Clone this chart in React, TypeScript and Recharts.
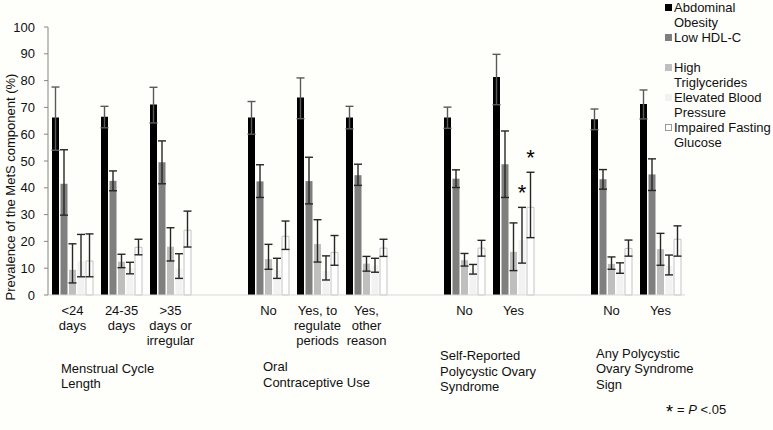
import React from "react";
import { BarChart, Bar, XAxis, YAxis, ErrorBar, Legend, LabelList } from "recharts";

const FONT = "'Liberation Sans', Arial, sans-serif";

// one slot per cluster, empty strings are the spacer slots between the groups
const categories = [
  "<24\ndays", "24-35\ndays", ">35\ndays or\nirregular", "",
  "No", "Yes, to\nregulate\nperiods", "Yes,\nother\nreason", "",
  "No", "Yes", "",
  "No", "Yes",
];

const aoValues = [66.2, 66.5, 71.1, null, 66.2, 73.7, 66.2, null, 66.2, 81.3, null, 65.6, 71.3];
const aoLow = [54.0, 62.4, 64.2, null, 60.0, 65.8, 62.0, null, 62.2, 71.0, null, 61.7, 65.7];
const aoHigh = [77.6, 70.4, 77.5, null, 72.2, 81.0, 70.4, null, 70.1, 89.8, null, 69.4, 76.5];

const hdlValues = [41.5, 42.6, 49.5, null, 42.4, 42.5, 44.7, null, 43.4, 48.8, null, 43.2, 45.0];
const hdlLow = [29.8, 38.9, 41.5, null, 36.4, 34.0, 40.9, null, 40.1, 36.4, null, 39.5, 39.0];
const hdlHigh = [54.2, 46.3, 57.5, null, 48.6, 51.4, 48.8, null, 46.7, 61.2, null, 46.8, 50.8];

const tgValues = [9.4, 12.4, 18.0, null, 13.4, 19.0, 11.7, null, 13.0, 16.1, null, 11.6, 17.1];
const tgLow = [4.5, 10.2, 12.7, null, 9.6, 12.3, 8.9, null, 10.8, 9.1, null, 9.6, 11.1];
const tgHigh = [19.1, 15.2, 25.1, null, 18.9, 28.1, 14.4, null, 15.5, 26.9, null, 14.2, 23.0];

const bpValues = [12.6, 10.0, 9.9, null, 9.3, 9.0, 11.0, null, 9.5, 20.5, null, 9.6, 10.8];
const bpLow = [6.8, 7.9, 6.2, null, 6.2, 5.6, 8.5, null, 7.8, 11.9, null, 8.1, 7.5];
const bpHigh = [22.6, 12.2, 15.4, null, 13.7, 14.6, 13.7, null, 11.4, 32.7, null, 12.0, 14.9];

const glucValues = [12.7, 17.8, 24.2, null, 21.9, 15.9, 17.5, null, 17.5, 32.7, null, 17.4, 20.8];
const glucLow = [6.8, 15.0, 17.9, null, 17.0, 11.1, 14.4, null, 14.5, 21.4, null, 14.5, 14.5];
const glucHigh = [22.8, 20.8, 31.3, null, 27.6, 22.2, 20.8, null, 20.4, 45.8, null, 20.5, 25.8];

// significance markers (P < .05)
const bpStars = ["", "", "", "", "", "", "", "", "", "*", "", "", ""];
const glucStars = ["", "", "", "", "", "", "", "", "", "*", "", "", ""];

const yTicks = [0, 10, 20, 30, 40, 50, 60, 70, 80, 90, 100];

const series = [
  { key: "ao", name: "Abdominal Obesity", lines: ["Abdominal", "Obesity"], values: aoValues, low: aoLow, high: aoHigh, fill: "#000000", stroke: "none", err: "#595959" },
  { key: "hdl", name: "Low HDL-C", lines: ["Low HDL-C"], values: hdlValues, low: hdlLow, high: hdlHigh, fill: "#7f7f7f", stroke: "none", err: "#262626" },
  { key: "tg", name: "High Triglycerides", lines: ["High", "Triglycerides"], values: tgValues, low: tgLow, high: tgHigh, fill: "#bfbfbf", stroke: "none", err: "#262626" },
  { key: "bp", name: "Elevated Blood Pressure", lines: ["Elevated Blood", "Pressure"], values: bpValues, low: bpLow, high: bpHigh, fill: "#f2f2f2", stroke: "none", err: "#262626" },
  { key: "gluc", name: "Impaired Fasting Glucose", lines: ["Impaired Fasting", "Glucose"], values: glucValues, low: glucLow, high: glucHigh, fill: "#ffffff", stroke: "#c4c4c4", err: "#262626" },
];

const data = categories.map((name, i) => {
  const row: any = { name };
  series.forEach((s) => {
    const v = s.values[i];
    row[s.key] = v;
    row[s.key + "Err"] = v == null ? null : [v - (s.low[i] as number), (s.high[i] as number) - v];
  });
  row.bpStar = bpStars[i] ? { mark: bpStars[i], v: bpValues[i], up: (bpHigh[i] as number) - (bpValues[i] as number) } : null;
  row.glucStar = glucStars[i] ? { mark: glucStars[i], v: glucValues[i], up: (glucHigh[i] as number) - (glucValues[i] as number) } : null;
  return row;
});

const CategoryTick = (props: any) => {
  const { x, y, payload } = props;
  if (!payload || !payload.value) return null;
  const lines = String(payload.value).split("\n");
  return (
    <text x={x} y={y} textAnchor="middle" fontSize={13} fill="#111" fontFamily={FONT}>
      {lines.map((l, i) => (
        <tspan key={i} x={x} dy={i === 0 ? 12 : 15}>{l}</tspan>
      ))}
    </text>
  );
};

// star sits above the upper whisker of the error bar
const StarLabel = (props: any) => {
  const { value } = props;
  if (!value || typeof value !== "object") return null;
  const vb = props.viewBox || props;
  const pxPerUnit = vb.height / value.v;
  const top = vb.y - value.up * pxPerUnit;
  return (
    <text x={vb.x + vb.width / 2} y={top - 7} textAnchor="middle" fontSize={22} fill="#000" fontFamily={FONT}>
      {value.mark}
    </text>
  );
};

const LegendBox = () => (
  <div style={{ fontFamily: FONT, fontSize: 13, color: "#111", lineHeight: "15px" }}>
    {series.map((s) => (
      <div key={s.key} style={{ position: "relative", height: 30, paddingLeft: 11 }}>
        <div
          style={{
            position: "absolute", left: 2, top: 4, width: 7, height: 7, background: s.fill,
            boxSizing: "border-box", border: s.stroke === "none" ? "none" : `1px solid #9a9a9a`,
          }}
        />
        {s.lines.map((l) => (
          <div key={l} style={{ whiteSpace: "nowrap" }}>{l}</div>
        ))}
      </div>
    ))}
  </div>
);

const groupLabels = [
  { x: 61, y: [372.5, 388], lines: ["Menstrual Cycle", "Length"] },
  { x: 263, y: [371, 386.5], lines: ["Oral", "Contraceptive Use"] },
  { x: 440, y: [360, 375.5, 391], lines: ["Self-Reported", "Polycystic Ovary", "Syndrome"] },
  { x: 596, y: [357.5, 373, 388.5], lines: ["Any Polycystic", "Ovary Syndrome", "Sign"] },
];

export default function App() {
  return (
    <div style={{ position: "absolute", left: 0, top: 0, width: 773, height: 430, background: "#fefefb" }}>
      <BarChart
        width={773}
        height={430}
        data={data}
        margin={{ top: 27, right: 88, bottom: 0, left: 0 }}
        barCategoryGap={4}
        barGap={1.5}
      >
        <XAxis
          dataKey="name"
          interval={0}
          tickLine={false}
          axisLine={{ stroke: "#d9d9d9" }}
          tick={<CategoryTick />}
          height={135}
        />
        <YAxis
          domain={[0, 100]}
          ticks={yTicks}
          width={48}
          tickSize={4}
          tickMargin={9}
          axisLine={{ stroke: "#868686" }}
          tickLine={{ stroke: "#868686" }}
          tick={{ fontSize: 13, fill: "#111", fontFamily: FONT }}
        />
        <Legend
          verticalAlign="middle"
          align="center"
          layout="vertical"
          content={<LegendBox />}
          wrapperStyle={{ position: "absolute", top: 0, left: 663, width: 110 }}
        />
        {series.map((s) => (
          <Bar
            key={s.key}
            dataKey={s.key}
            name={s.name}
            fill={s.fill}
            stroke={s.stroke}
            strokeWidth={1}
            isAnimationActive={false}
          >
            <ErrorBar dataKey={s.key + "Err"} width={4} stroke={s.err} strokeWidth={1.4} direction="y" />
            {s.key === "bp" && <LabelList dataKey="bpStar" content={<StarLabel />} />}
            {s.key === "gluc" && <LabelList dataKey="glucStar" content={<StarLabel />} />}
          </Bar>
        ))}
      </BarChart>
      <svg
        width={773}
        height={430}
        style={{ position: "absolute", left: 0, top: 0, pointerEvents: "none" }}
        fontFamily={FONT}
      >
        <text
          x={10}
          y={187}
          dy="0.35em"
          textAnchor="middle"
          fontSize={13}
          fill="#111"
          transform="rotate(-90 10 187)"
        >
          Prevalence of the MetS component (%)
        </text>
        {groupLabels.map((g) => (
          <text key={g.lines[0]} fontSize={13} fill="#111">
            {g.lines.map((l, i) => (
              <tspan key={l} x={g.x} y={g.y[i]}>{l}</tspan>
            ))}
          </text>
        ))}
        <text x={666} y={418} fontSize={18} fill="#000">*</text>
        <text x={677} y={413.5} fontSize={13} fill="#111">
          = <tspan fontStyle="italic">P</tspan> &lt;.05
        </text>
      </svg>
    </div>
  );
}
